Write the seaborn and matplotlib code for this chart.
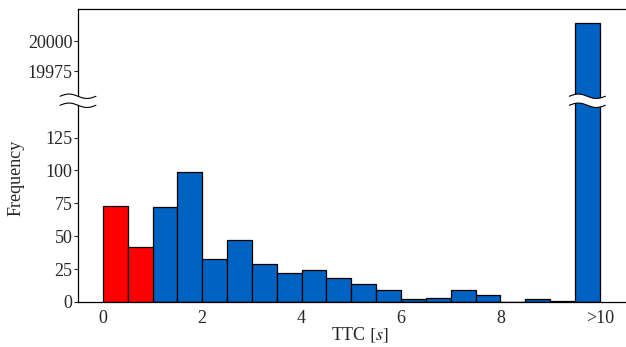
import matplotlib
matplotlib.use("Agg")
import matplotlib.pyplot as plt
from matplotlib import font_manager
import numpy as np
import pandas as pd
import seaborn as sns

# dane histogramu TTC (lewe krawedzie przedzialow 0.5 s, ostatni przedzial = ">10")
bin_left = [0.0, 0.5, 1.0, 1.5, 2.0, 2.5, 3.0, 3.5, 4.0, 4.5,
            5.0, 5.5, 6.0, 6.5, 7.0, 7.5, 8.0, 8.5, 9.0, 9.5]
bin_width = 0.5
counts = [73, 42, 72, 99, 33, 47, 29, 22, 24, 18,
          14, 9, 2, 3, 9, 5, 0, 2, 1, 20015]
groups = ["crit", "crit"] + ["rest"] * 18

x_ticks = [0, 2, 4, 6, 8, 10]
x_tick_labels = ["0", "2", "4", "6", "8", ">10"]
y_ticks = [0, 25, 50, 75, 100, 125, 19975, 20000]

colors = {"crit": "#ff0000", "rest": "#0062c2"}

# przerwana os y: dolna czesc 0..LOW_TOP, gorna HIGH_BOT..HIGH_TOP
LOW_TOP = 153.0
HIGH_BOT = 19950.6
HIGH_TOP = 20027.0
K = 0.913     # skala gornej czesci wzgledem dolnej
EPS = 1e-6
GAP = (HIGH_BOT - LOW_TOP) * EPS


def fwd(y):
    y = np.asarray(y, dtype=float)
    return np.where(y <= LOW_TOP, y,
                    np.where(y >= HIGH_BOT, LOW_TOP + GAP + (y - HIGH_BOT) * K,
                             LOW_TOP + (y - LOW_TOP) * EPS))


def inv(v):
    v = np.asarray(v, dtype=float)
    return np.where(v <= LOW_TOP, v,
                    np.where(v >= LOW_TOP + GAP, HIGH_BOT + (v - LOW_TOP - GAP) / K,
                             LOW_TOP + (v - LOW_TOP) / EPS))


edges = bin_left + [bin_left[-1] + bin_width]
df = pd.DataFrame({
    "ttc": [b + bin_width / 2 for b in bin_left],
    "count": counts,
    "group": groups,
})

sns.set_style("ticks")
# czcionka typu Times
serif_name = "DejaVu Serif"
for name in ["Liberation Serif", "Times New Roman", "STIXGeneral"]:
    try:
        font_manager.findfont(font_manager.FontProperties(family=name), fallback_to_default=False)
        serif_name = name
        break
    except Exception:
        pass
plt.rcParams["font.family"] = "serif"
plt.rcParams["font.serif"] = [serif_name, "DejaVu Serif"]
plt.rcParams["mathtext.fontset"] = "stix"
FS = 13
plt.rcParams["font.size"] = FS

W, H = 626, 347
fig = plt.figure(figsize=(W / 100, H / 100), dpi=100)
ax = fig.add_axes([78 / W, 1 - 302 / H, (642 - 78) / W, (302 - 9) / H])

sns.histplot(data=df, x="ttc", weights="count", hue="group", bins=edges,
             palette=colors, multiple="layer", alpha=1, legend=False,
             edgecolor="black", linewidth=0.9, ax=ax)

ax.set_yscale("function", functions=(fwd, inv))
ax.set_ylim(0, HIGH_TOP)
ax.set_xlim(-0.5, 10.85)

ax.set_yticks(y_ticks)
ax.set_yticklabels([str(t) for t in y_ticks])
ax.set_xticks(x_ticks)
ax.set_xticklabels(x_tick_labels)
ax.yaxis.set_minor_locator(matplotlib.ticker.NullLocator())
ax.tick_params(axis="x", length=0, pad=6, labelsize=FS)
ax.tick_params(axis="y", length=3, width=0.8, direction="out", pad=1, labelsize=FS)

for s in ["left", "bottom", "top"]:
    ax.spines[s].set_linewidth(0.9)
    ax.spines[s].set_color("black")
ax.spines["right"].set_visible(False)

ax.set_xlabel(r"TTC $[s]$", fontsize=FS)
ax.set_ylabel("Frequency", fontsize=FS)
ax.xaxis.set_label_coords(0.5, -0.08)
ax.yaxis.set_label_coords(-0.095, 0.423)

# znaczniki przerwania osi (na osi y i na wysokim slupku)
fig.canvas.draw()
inv_fig = fig.transFigure.inverted()


def squiggle(xc_disp, yc_disp, half_w=18, amp=2.2, gap=9):
    t = np.linspace(-half_w, half_w, 80)
    wave = -amp * np.sin(np.pi * t / half_w)
    top = np.column_stack([xc_disp + t, yc_disp + gap / 2 + wave])
    bot = np.column_stack([xc_disp + t, yc_disp - gap / 2 + wave])
    poly = np.vstack([top, bot[::-1]])
    pf = inv_fig.transform(poly)
    fig.add_artist(plt.Polygon(pf, closed=True, facecolor="white",
                               edgecolor="none", transform=fig.transFigure, zorder=10))
    for line in (top, bot):
        lf = inv_fig.transform(line)
        fig.add_artist(plt.Line2D(lf[:, 0], lf[:, 1], color="black", lw=0.8,
                                  transform=fig.transFigure, zorder=11))


_, yb = ax.transData.transform((0, LOW_TOP))
xl, _ = ax.transAxes.transform((0, 0))
squiggle(xl, yb)
xbar, _ = ax.transData.transform((bin_left[-1] + bin_width / 2, 0))
squiggle(xbar, yb)

fig.savefig("out.png", dpi=100)
